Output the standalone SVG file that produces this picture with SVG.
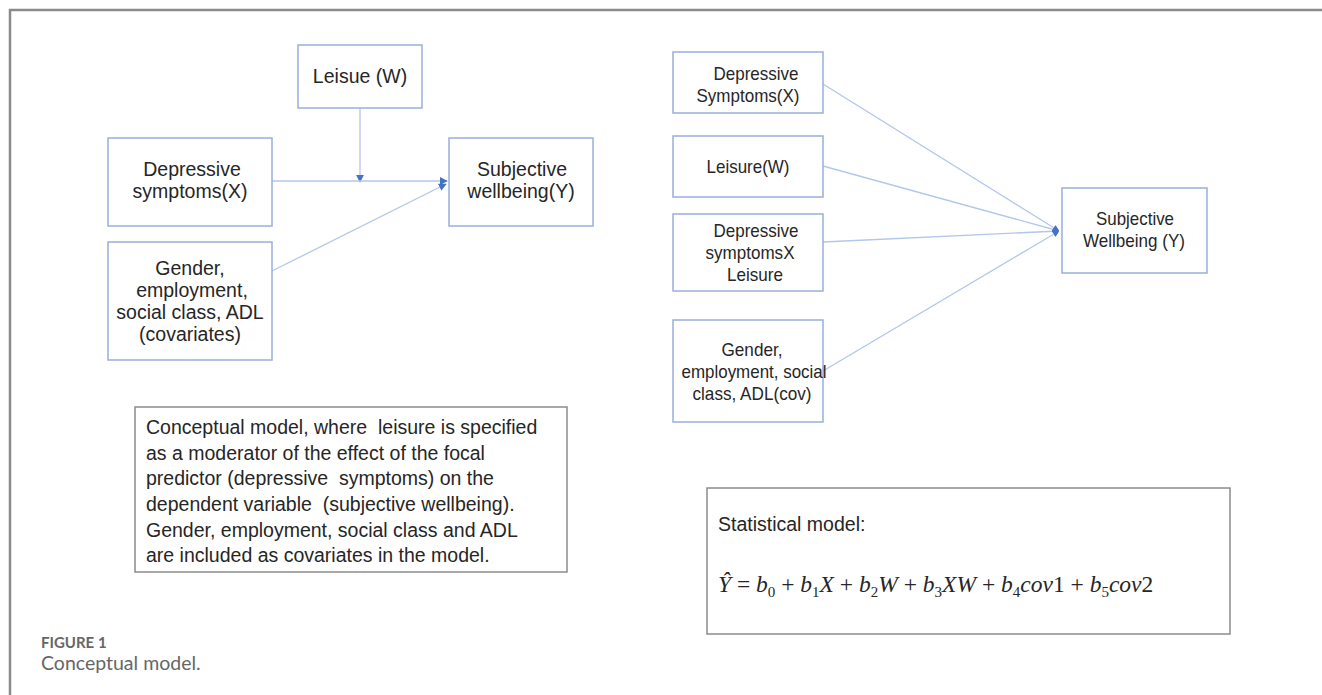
<svg xmlns="http://www.w3.org/2000/svg" width="1322" height="695" viewBox="0 0 1322 695">
<style>
.frame{stroke:#8a8a8a;stroke-width:2.5;fill:none}
.box{fill:#fff;stroke:#9aafdc;stroke-width:1.5}
.gbox{fill:#fff;stroke:#8c8c8c;stroke-width:1.5}
.t{font-family:"Liberation Sans",Arial,sans-serif;font-size:19.5px;fill:#262626;text-anchor:middle}
.r{font-family:"Liberation Sans",Arial,sans-serif;font-size:19px;fill:#262626;text-anchor:middle}
.p{font-family:"Liberation Sans",Arial,sans-serif;font-size:19.5px;fill:#262626;white-space:pre}
.m{font-family:"Liberation Serif","Times New Roman",serif;font-size:23.5px;font-style:italic;fill:#262626}
.up{font-style:normal}
.sub{font-size:15px}
.conn{stroke:#b3c6ec;stroke-width:1.3;fill:none}
.cap1{font-family:Lato,"Open Sans",sans-serif;font-size:15px;font-weight:bold;fill:#666}
.cap2{font-family:Lato,"Open Sans",sans-serif;font-size:19.5px;fill:#666}
</style>
<defs>
<marker id="ah" viewBox="0 0 10 10" refX="9" refY="5" markerWidth="8" markerHeight="8" markerUnits="userSpaceOnUse" orient="auto">
<path d="M0,0 L10,5 L0,10 z" fill="#4472c4"/>
</marker>
<marker id="dm" viewBox="0 0 8 12" refX="7.5" refY="6" markerWidth="8" markerHeight="12" markerUnits="userSpaceOnUse" orient="0">
<path d="M4,0.5 L7.5,6 L4,11.5 L0.5,6 z" fill="#4472c4"/>
</marker>
</defs>
<rect width="1322" height="695" fill="#fff"/>
<path class="frame" d="M10,695 V10 H1322"/>

<g id="connectors">
<line class="conn" x1="360" y1="108" x2="360" y2="182" marker-end="url(#ah)"/>
<line class="conn" x1="272" y1="181" x2="447" y2="181" marker-end="url(#ah)"/>
<line class="conn" x1="272" y1="271" x2="446" y2="184" marker-end="url(#ah)"/>
<line class="conn" x1="823" y1="84" x2="1059" y2="231" marker-end="url(#dm)"/>
<line class="conn" x1="823" y1="166" x2="1059" y2="231" marker-end="url(#dm)"/>
<line class="conn" x1="823" y1="242" x2="1059" y2="231" marker-end="url(#dm)"/>
<line class="conn" x1="823" y1="371" x2="1059" y2="231" marker-end="url(#dm)"/>
</g>

<g id="leisure-w">
<rect class="box" x="298" y="45" width="124" height="63"/>
<text class="t" x="360" y="83">Leisue (W)</text>
</g>
<g id="depressive-x">
<rect class="box" x="108" y="138" width="164" height="88"/>
<text class="t" x="192" y="176">Depressive</text>
<text class="t" x="190" y="198">symptoms(X)</text>
</g>
<g id="subjective-y">
<rect class="box" x="449" y="138" width="144" height="88"/>
<text class="t" x="522" y="176">Subjective</text>
<text class="t" x="521" y="198">wellbeing(Y)</text>
</g>
<g id="covariates">
<rect class="box" x="108" y="242" width="164" height="118"/>
<text class="t" x="190" y="275">Gender,</text>
<text class="t" x="192" y="297">employment,</text>
<text class="t" x="190" y="319">social class, ADL</text>
<text class="t" x="190" y="341">(covariates)</text>
</g>
<g id="description">
<rect class="gbox" x="135" y="407" width="432" height="165"/>
<text class="p" x="146" y="434">Conceptual model, where  leisure is specified</text>
<text class="p" x="146" y="460">as a moderator of the effect of the focal</text>
<text class="p" x="146" y="485">predictor (depressive  symptoms) on the</text>
<text class="p" x="146" y="511">dependent variable  (subjective wellbeing).</text>
<text class="p" x="146" y="537">Gender, employment, social class and ADL</text>
<text class="p" x="146" y="562">are included as covariates in the model.</text>
</g>

<g id="r-depressive-x">
<rect class="box" x="673" y="52" width="150" height="61"/>
<text class="r" x="756" y="80" textLength="85" lengthAdjust="spacingAndGlyphs">Depressive</text>
<text class="r" x="748" y="102" textLength="103" lengthAdjust="spacingAndGlyphs">Symptoms(X)</text>
</g>
<g id="r-leisure-w">
<rect class="box" x="673" y="136" width="150" height="61"/>
<text class="r" x="748" y="173" textLength="83" lengthAdjust="spacingAndGlyphs">Leisure(W)</text>
</g>
<g id="r-interaction">
<rect class="box" x="673" y="214" width="150" height="77"/>
<text class="r" x="756" y="237" textLength="85" lengthAdjust="spacingAndGlyphs">Depressive</text>
<text class="r" x="750" y="259" textLength="89" lengthAdjust="spacingAndGlyphs">symptomsX</text>
<text class="r" x="755" y="281" textLength="56" lengthAdjust="spacingAndGlyphs">Leisure</text>
</g>
<g id="r-covariates">
<rect class="box" x="673" y="320" width="150" height="102"/>
<text class="r" x="752" y="356" textLength="61" lengthAdjust="spacingAndGlyphs">Gender,</text>
<text class="r" x="754" y="378" textLength="145" lengthAdjust="spacingAndGlyphs">employment, social</text>
<text class="r" x="752" y="400" textLength="119" lengthAdjust="spacingAndGlyphs">class, ADL(cov)</text>
</g>
<g id="r-subjective-y">
<rect class="box" x="1062" y="188" width="145" height="85"/>
<text class="r" x="1135" y="225" textLength="78" lengthAdjust="spacingAndGlyphs">Subjective</text>
<text class="r" x="1134" y="247" textLength="102" lengthAdjust="spacingAndGlyphs">Wellbeing (Y)</text>
</g>
<g id="statistical-model">
<rect class="gbox" x="707" y="488" width="523" height="146"/>
<text class="p" x="718" y="531">Statistical model:</text>
<text class="m" x="718" y="592">Ŷ <tspan class="up">=</tspan> b<tspan class="sub up" dy="5">0</tspan><tspan dy="-5" class="up"> + </tspan>b<tspan class="sub up" dy="5">1</tspan><tspan dy="-5">X</tspan><tspan class="up"> + </tspan>b<tspan class="sub up" dy="5">2</tspan><tspan dy="-5">W</tspan><tspan class="up"> + </tspan>b<tspan class="sub up" dy="5">3</tspan><tspan dy="-5">XW</tspan><tspan class="up"> + </tspan>b<tspan class="sub up" dy="5">4</tspan><tspan dy="-5">cov</tspan><tspan class="up">1 + </tspan>b<tspan class="sub up" dy="5">5</tspan><tspan dy="-5">cov</tspan><tspan class="up">2</tspan></text>
</g>

<text class="cap1" x="41" y="648">FIGURE 1</text>
<text class="cap2" x="41" y="670">Conceptual model.</text>
</svg>
